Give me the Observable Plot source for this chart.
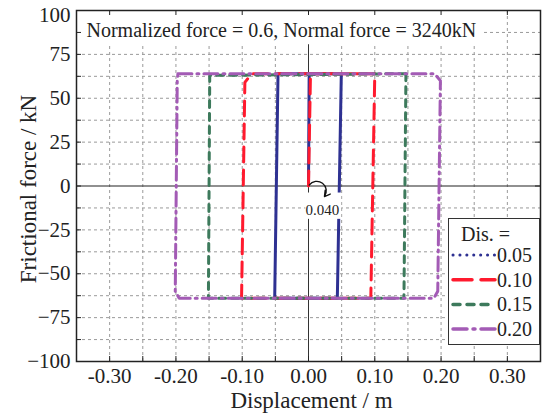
<!DOCTYPE html>
<html><head><meta charset="utf-8">
<script src="https://cdn.jsdelivr.net/npm/d3@7"></script>
<script src="https://cdn.jsdelivr.net/npm/@observablehq/plot@0.6"></script>
<style>
body{margin:0;background:#fff}
#chart{position:relative;width:543px;height:414px;font-family:"Liberation Serif","Times New Roman",serif}
#legend{position:absolute;left:448px;top:218px;width:92px;height:127px;border:1px solid #333;background:#fff;box-sizing:border-box}
</style></head><body><div id="chart"></div>
<script>
// ---- data ----
const titleText = "Normalized force = 0.6, Normal force = 3240kN";
const xLabel = "Displacement / m";
const yLabel = "Frictional force / kN";
const legendTitle = "Dis. =";
const seriesNames = ["0.05", "0.10", "0.15", "0.20"];
const seriesColors = ["#2E3192", "#FF1A2E", "#3D7A5C", "#A35BB5"];
const plotDash = [null, "15,8", "7,6", "14,5,2,5"];
const legendDash = ["0.1,6.8", "19,9", "7,7", "14,6,2,6"];

// loop paths (displacement m, force kN)
const x005 = [0, 0.001, 0.0495, 0.0435, -0.051, -0.046, 0.0495];
const y005 = [0, 64, 64, -64, -64, 64, 64];
const x010 = [0, 0.003, 0.1, 0.094, -0.101, -0.096, -0.086, 0.1];
const y010 = [0, 64, 64, -64, -64, 59, 64, 64];
const x015 = [0.147, 0.144, -0.151, -0.149, 0.147];
const y015 = [64, -64, -64, 63, 64];
const x020 = [-0.197, 0.19, 0.199, 0.195, 0.189, -0.195, -0.201, -0.198, -0.197];
const y020 = [64, 64, 60, -60, -64, -64, -60, 60, 64];
const seriesX = [x005, x010, x015, x020];
const seriesY = [y005, y010, y015, y020];

const xMajor = [-0.3, -0.2, -0.1, 0, 0.1, 0.2, 0.3];
const xMinor = [-0.35, -0.3, -0.25, -0.2, -0.15, -0.1, -0.05, 0, 0.05, 0.1, 0.15, 0.2, 0.25, 0.3, 0.35];
const yMajor = [-100, -75, -50, -25, 0, 25, 50, 75, 100];
const yMinor = [-87.5, -62.5, -37.5, -12.5, 12.5, 37.5, 62.5, 87.5];
const yGrid = yMajor.concat(yMinor);

// annotations
const titleBox = [{x1: -0.35, x2: 0.262, y1: 80.5, y2: 100}];
const noteBox = [{x1: -0.004, x2: 0.05, y1: -4, y2: -19}];
const noteArc = [{x1: 0.001, y1: 0.5, x2: 0.024, y2: -6}];
const noteText = [{x: 0.021, y: -13.7, t: "0.040"}];

// ---- build ----
const font = '"Liberation Serif","Times New Roman",serif';
const rows = seriesNames.map((s, i) => seriesX[i].map((x, j) => ({s, x, y: seriesY[i][j]})));
const W = 543, H = 414, mL = 76, mR = 3, mT = 10, mB = 53;
const pw = W - mL - mR, ph = H - mT - mB;

const lines = rows.map((r, i) => Plot.line(r, {
  x: "x", y: "y", stroke: seriesColors[i], strokeWidth: 3,
  strokeDasharray: plotDash[i], strokeLinecap: plotDash[i] ? "round" : "butt", strokeLinejoin: "round"
}));
const yFmt = d => (d < 0 ? "\u2212" : "") + Math.abs(d);

const chart = Plot.plot({
  width: W, height: H,
  marginLeft: mL, marginRight: mR, marginTop: mT, marginBottom: mB,
  style: {fontFamily: font, background: "white", color: "#222", overflow: "visible"},
  x: {domain: [-0.35, 0.35]},
  y: {domain: [-100, 100]},
  marks: [
    Plot.ruleX(xMinor.filter(d => Math.abs(d) < 0.34 && d !== 0), {stroke: "#9a9a9a", strokeDasharray: "3,3", strokeWidth: 1}),
    Plot.ruleY(yGrid.filter(d => Math.abs(d) < 99 && d !== 0), {stroke: "#9a9a9a", strokeDasharray: "3,3", strokeWidth: 1}),
    Plot.ruleX([0], {stroke: "#333", strokeWidth: 1}),
    Plot.ruleY([0], {stroke: "#222", strokeWidth: 1.2}),
    Plot.rect(titleBox, {x1: "x1", x2: "x2", y1: "y1", y2: "y2", fill: "white"}),
    ...lines,
    Plot.rect(noteBox, {x1: "x1", x2: "x2", y1: "y1", y2: "y2", fill: "white"}),
    Plot.arrow(noteArc, {x1: "x1", y1: "y1", x2: "x2", y2: "y2", bend: 90, stroke: "#111", strokeWidth: 1.3, headLength: 8}),
    Plot.text(noteText, {x: "x", y: "y", text: "t", fontSize: 15, fill: "#222"}),
    Plot.frame({stroke: "#222", strokeWidth: 1.5}),
    Plot.tickX(xMinor, {x: d => d, insetTop: ph - 5, stroke: "#222"}),
    Plot.tickX(xMajor, {x: d => d, insetBottom: ph - 5, stroke: "#222"}),
    Plot.tickY(yGrid, {y: d => d, insetRight: pw - 5, stroke: "#222"}),
    Plot.tickY(yMajor, {y: d => d, insetLeft: pw - 5, stroke: "#222"}),
    Plot.axisX(xMajor, {tickSize: 0, tickPadding: 7, fontSize: 21, label: null,
      tickFormat: d => (d < 0 ? "-" : "") + Math.abs(d).toFixed(2)}),
    Plot.axisY(yMajor.filter(d => d < 100), {tickSize: 0, tickPadding: 6, fontSize: 21, label: null, tickFormat: yFmt}),
    Plot.axisY(yMajor.filter(d => d >= 100), {tickSize: 0, tickPadding: 6, fontSize: 21, label: null, tickFormat: yFmt, dy: 5}),
    Plot.text([titleText], {frameAnchor: "top-left", dx: 10, dy: 12, textAnchor: "start", lineAnchor: "top", fontSize: 20, fill: "#222"}),
    Plot.text([xLabel], {frameAnchor: "bottom", dx: 3, dy: 39, lineAnchor: "middle", textAnchor: "middle", fontSize: 23, fill: "#222"}),
    Plot.text([yLabel], {frameAnchor: "left", dx: -48, dy: 3, rotate: -90, textAnchor: "middle", lineAnchor: "middle", fontSize: 23, fill: "#222"})
  ]
});
const host = document.getElementById("chart");
host.appendChild(chart);

// legend overlay built from the series arrays
const lg = document.createElement("div");
lg.id = "legend";
const ns = "http://www.w3.org/2000/svg";
const svg = document.createElementNS(ns, "svg");
svg.setAttribute("width", 90); svg.setAttribute("height", 125);
svg.style.fontFamily = font;
const t0 = document.createElementNS(ns, "text");
t0.setAttribute("x", 12); t0.setAttribute("y", 15); t0.setAttribute("dy", "0.35em");
t0.setAttribute("font-size", 20); t0.setAttribute("fill", "#222"); t0.textContent = legendTitle;
svg.appendChild(t0);
seriesNames.forEach((s, i) => {
  const yy = 36 + i * 24.7;
  const ln = document.createElementNS(ns, "line");
  ln.setAttribute("x1", 4); ln.setAttribute("x2", 46); ln.setAttribute("y1", yy); ln.setAttribute("y2", yy);
  ln.setAttribute("stroke", seriesColors[i]); ln.setAttribute("stroke-width", i === 0 ? 3 : 3.5);
  ln.setAttribute("stroke-dasharray", legendDash[i]); ln.setAttribute("stroke-linecap", "round");
  svg.appendChild(ln);
  const tx = document.createElementNS(ns, "text");
  tx.setAttribute("x", 48); tx.setAttribute("y", yy); tx.setAttribute("dy", "0.35em");
  tx.setAttribute("font-size", 20); tx.setAttribute("fill", "#222"); tx.textContent = s;
  svg.appendChild(tx);
});
lg.appendChild(svg);
host.appendChild(lg);
</script></body></html>
